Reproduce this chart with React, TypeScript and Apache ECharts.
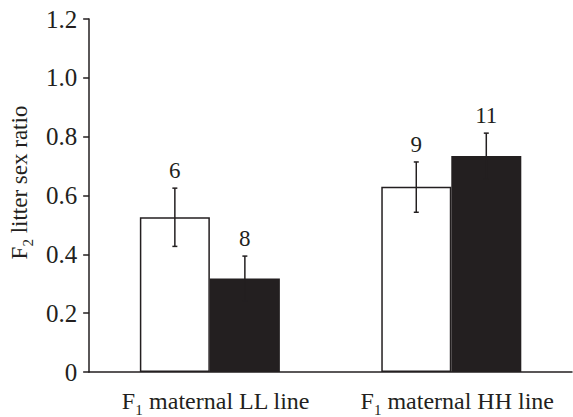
import React, { useEffect, useRef } from "react";
import * as echarts from "echarts";

const groups = ["LL", "HH"];
const whiteMeans = [0.526, 0.63];
const whiteUpper = [0.625, 0.714];
const whiteLower = [0.427, 0.543];
const blackMeans = [0.318, 0.734];
const blackUpper = [0.394, 0.812];
const blackLower = [0.242, 0.656];
const whiteCounts = ["6", "9"];
const blackCounts = ["8", "11"];
const yTickLabels = ["0", "0.2", "0.4", "0.6", "0.8", "1.0", "1.2"];

const INK = "#231f20";
const FONT = "'Liberation Serif', 'Times New Roman', serif";
const BAR_PCT = 0.29;

export default function App() {
  const ref = useRef<HTMLDivElement>(null);
  useEffect(() => {
    if (!ref.current) return;
    const chart = echarts.init(ref.current, null, { renderer: "svg" });

    const errSeries = (means: number[], upper: number[], lower: number[], counts: string[], side: number) => ({
      type: "custom",
      z: 10,
      data: means.map((m, i) => [i, m, upper[i], lower[i]]),
      renderItem: (params: any, api: any) => {
        const idx = api.value(0);
        const band = api.size([1, 0])[0];
        const center = api.coord([idx, 0])[0] + side * band * BAR_PCT / 2;
        const yTop = api.coord([idx, api.value(2)])[1];
        const yBot = api.coord([idx, api.value(3)])[1];
        const cap = 2.5;
        const st = { stroke: INK, lineWidth: 1.5 };
        return {
          type: "group",
          children: [
            { type: "line", shape: { x1: center, y1: yTop, x2: center, y2: yBot }, style: st },
            { type: "line", shape: { x1: center - cap, y1: yTop, x2: center + cap, y2: yTop }, style: st },
            { type: "line", shape: { x1: center - cap, y1: yBot, x2: center + cap, y2: yBot }, style: st },
            {
              type: "text",
              x: center,
              y: yTop - 6,
              style: {
                text: counts[idx],
                fill: INK,
                font: `23px ${FONT}`,
                align: "center",
                verticalAlign: "bottom",
              },
            },
          ],
        };
      },
    });

    chart.setOption({
      animation: false,
      grid: { left: 88, right: 1, top: 19, bottom: 43 },
      xAxis: {
        type: "category",
        data: groups,
        axisLine: { show: true, lineStyle: { color: INK, width: 1.5 } },
        axisTick: { show: false },
        axisLabel: {
          margin: 13,
          padding: [0, 0, 0, 12],
          formatter: (v: string) => `{m|F}{s|1}{m| maternal ${v} line}`,
          rich: {
            m: { fontFamily: FONT, fontSize: 24, color: INK },
            s: { fontFamily: FONT, fontSize: 15, color: INK, padding: [17, 0, 0, 0] },
          },
        },
      },
      yAxis: {
        type: "value",
        min: 0,
        max: 1.2,
        interval: 0.2,
        splitLine: { show: false },
        axisLine: { show: true, lineStyle: { color: INK, width: 1.5 } },
        axisTick: { show: true, inside: false, length: 6, lineStyle: { color: INK, width: 1.5 } },
        axisLabel: {
          margin: 12,
          fontFamily: FONT,
          fontSize: 25,
          color: INK,
          formatter: (v: number) => yTickLabels[Math.round(v / 0.2)],
        },
        name: "{m|F}{s|2}{m| litter sex ratio}",
        nameLocation: "middle",
        nameGap: 50,
        nameTextStyle: {
          padding: [0, 0, 0, 26],
          rich: {
            m: { fontFamily: FONT, fontSize: 23, color: INK },
            s: { fontFamily: FONT, fontSize: 15, color: INK, padding: [16, 0, 0, 0] },
          },
        },
      },
      series: [
        {
          type: "bar",
          data: whiteMeans,
          barWidth: `${BAR_PCT * 100}%`,
          barGap: "0%",
          itemStyle: { color: "#ffffff", borderColor: INK, borderWidth: 1.5 },
        },
        {
          type: "bar",
          data: blackMeans,
          barWidth: `${BAR_PCT * 100}%`,
          barGap: "0%",
          itemStyle: { color: INK, borderColor: INK, borderWidth: 0 },
        },
        errSeries(whiteMeans, whiteUpper, whiteLower, whiteCounts, -1),
        errSeries(blackMeans, blackUpper, blackLower, blackCounts, 1),
      ],
    });
    return () => chart.dispose();
  }, []);
  return (
    <div
      ref={ref}
      style={{ position: "fixed", left: 0, top: 0, width: 573, height: 417, background: "#fff" }}
    />
  );
}
